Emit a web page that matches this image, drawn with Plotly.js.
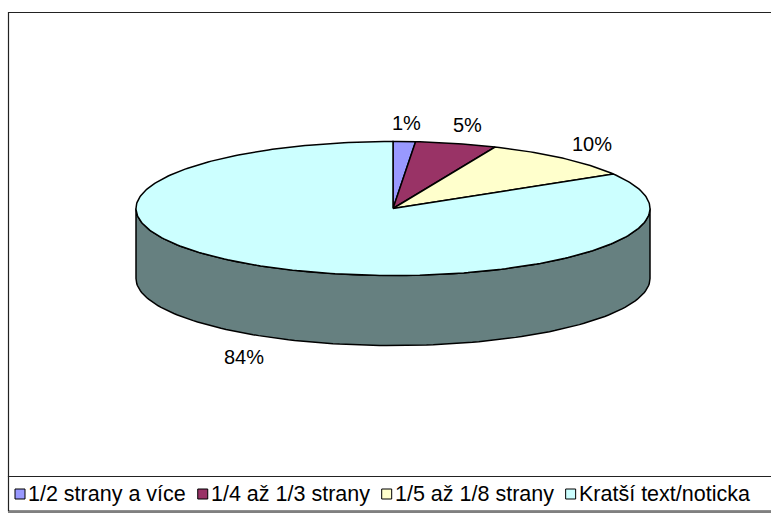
<!DOCTYPE html>
<html><head><meta charset="utf-8">
<script src="https://cdn.plot.ly/plotly-3.0.1.min.js"></script>
<style>html,body{margin:0;padding:0;background:#fff}</style>
</head>
<body><div id="chart" style="width:771px;height:513px"></div>
<script>
// ---- data ----
const categories = ['1/2 strany a více', '1/4 až 1/3 strany', '1/5 až 1/8 strany', 'Kratší text/noticka'];
const values = [1.4, 5.1, 9.9, 83.6];
const percentLabels = ['1%', '5%', '10%', '84%'];
const colors = ['#9999FF', '#993366', '#FFFFCC', '#CCFFFF'];

// ---- geometry / style ----
const W = 771, H = 513;
const cx = 393, cy = 208.5, rx = 257, ry = 67, depth = 70;
const FONT = 'Liberation Sans, Arial, sans-serif';
const FS = 20;
const LFS = 21.5;
const total = values.reduce((s, v) => s + v, 0);

function pt(t, dy) { return [cx + rx * Math.sin(t), cy - ry * Math.cos(t) + (dy || 0)]; }
function darken(hex, f) {
  const n = parseInt(hex.slice(1), 16);
  const r = Math.round(((n >> 16) & 255) * f), g = Math.round(((n >> 8) & 255) * f), b = Math.round((n & 255) * f);
  return 'rgb(' + r + ',' + g + ',' + b + ')';
}

const traces = [];
let acc = 0;
const ranges = values.map(v => { const t0 = acc / total * 2 * Math.PI; acc += v; return [t0, acc / total * 2 * Math.PI]; });

// visible sides (front half: pi/2 .. 3pi/2)
ranges.forEach((r, i) => {
  const s0 = Math.max(r[0], Math.PI / 2), s1 = Math.min(r[1], 3 * Math.PI / 2);
  if (s1 <= s0) return;
  const xs = [], ys = [];
  const N = 120;
  for (let k = 0; k <= N; k++) { const p = pt(s0 + (s1 - s0) * k / N, 0); xs.push(p[0]); ys.push(p[1]); }
  for (let k = N; k >= 0; k--) { const p = pt(s0 + (s1 - s0) * k / N, depth); xs.push(p[0]); ys.push(p[1]); }
  xs.push(xs[0]); ys.push(ys[0]);
  traces.push({ type: 'scatter', mode: 'lines', x: xs, y: ys, fill: 'toself', fillcolor: darken(colors[i], 0.5),
    line: { color: '#000', width: 1.5 }, hoverinfo: 'skip', showlegend: false });
});

// top slices
ranges.forEach((r, i) => {
  const xs = [cx], ys = [cy];
  const N = Math.max(4, Math.ceil((r[1] - r[0]) / (2 * Math.PI) * 360));
  for (let k = 0; k <= N; k++) { const p = pt(r[0] + (r[1] - r[0]) * k / N, 0); xs.push(p[0]); ys.push(p[1]); }
  xs.push(cx); ys.push(cy);
  traces.push({ type: 'scatter', mode: 'lines', x: xs, y: ys, fill: 'toself', fillcolor: colors[i],
    line: { color: '#000', width: 1.5 }, hoverinfo: 'skip', showlegend: false, name: categories[i] });
});

// percent labels
const annotations = [];
ranges.forEach((r, i) => {
  const m = (r[0] + r[1]) / 2;
  const lx = cx + (rx + 45) * Math.sin(m);
  let ly = cy - (ry + 19) * Math.cos(m);
  if (Math.cos(m) < 0) ly += depth + 4;
  annotations.push({ x: lx, y: ly, xref: 'x', yref: 'y', text: percentLabels[i], showarrow: false,
    font: { family: FONT, size: FS, color: '#000' }, xanchor: 'center', yanchor: 'middle' });
});

// frame
const shapes = [
  { type: 'rect', xref: 'x', yref: 'y', x0: 8.5, y0: 12.5, x1: 780, y1: 476.5, line: { color: '#222', width: 1.2 }, fillcolor: 'rgba(0,0,0,0)' },
  { type: 'rect', xref: 'x', yref: 'y', x0: 8.5, y0: 476.5, x1: 780, y1: 511, line: { color: '#222', width: 1.2 }, fillcolor: 'rgba(0,0,0,0)' },
  { type: 'line', xref: 'x', yref: 'y', x0: 8, y0: 512, x1: 780, y1: 512, line: { color: '#808080', width: 2 } }
];

// legend (manual, laid out from measured text widths)
const cvs = document.createElement('canvas').getContext('2d');
cvs.font = LFS + 'px "Liberation Sans", Arial, sans-serif';
let lxp = 15;
const legY = 494;
categories.forEach((c, i) => {
  shapes.push({ type: 'rect', xref: 'x', yref: 'y', x0: lxp, x1: lxp + 10, y0: legY - 5, y1: legY + 5,
    fillcolor: colors[i], line: { color: '#000', width: 1 } });
  const w = cvs.measureText(c).width;
  annotations.push({ x: lxp + 11, y: legY, xref: 'x', yref: 'y', text: c, showarrow: false,
    font: { family: FONT, size: LFS, color: '#000' }, xanchor: 'left', yanchor: 'middle' });
  lxp += 11 + w + 4 + 10;
});

const layout = {
  width: W, height: H,
  margin: { l: 0, r: 0, t: 0, b: 0 },
  paper_bgcolor: '#fff', plot_bgcolor: '#fff',
  xaxis: { range: [0, W], visible: false, fixedrange: true },
  yaxis: { range: [H, 0], visible: false, fixedrange: true },
  showlegend: false,
  annotations: annotations,
  shapes: shapes
};
Plotly.newPlot('chart', traces, layout, { displayModeBar: false, staticPlot: true });
</script>
</body></html>
